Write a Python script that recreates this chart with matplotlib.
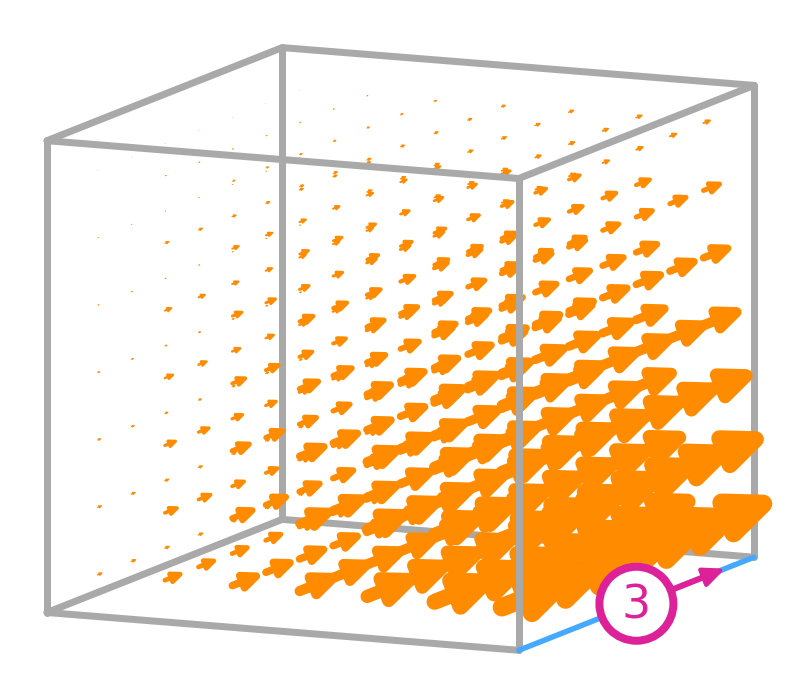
import numpy as np
import matplotlib
matplotlib.use('Agg')
from matplotlib import pyplot as plt
from matplotlib.patches import Circle

# grid positions along each cube side (cube runs 0..7 on every axis)
grid_x = [0.5, 1.5, 2.5, 3.5, 4.5, 5.5, 6.5]
grid_y = [0.5, 1.5, 2.5, 3.5, 4.5, 5.5, 6.5]
grid_z = [0.5, 1.5, 2.5, 3.5, 4.5, 5.5, 6.5]

# arrow length, rows are z layers, columns are x.
# depth (y) makes no visible difference so the rows are shared
len_z0 = [5.5, 19, 30, 41, 53, 64, 74]
len_z1 = [5, 15, 25, 36, 45, 54, 65]
len_z2 = [4, 13, 21, 30, 37, 44, 53]
len_z3 = [3, 10, 16, 23, 29, 35, 41]
len_z4 = [2, 8, 12, 17, 21, 26, 30]
len_z5 = [1.5, 5, 8, 11, 14, 17, 20]
len_z6 = [0.7, 2, 3.5, 5, 6, 7, 8]
arrow_len = [len_z0, len_z1, len_z2, len_z3, len_z4, len_z5, len_z6]

marker_label = '3'

GRAY = '#a9a9a9'
ORANGE = '#ff8c00'
BLUE = '#45aaff'
MAGENTA = '#dd2299'

PX = 72 / 100  # points per pixel at dpi 100

# Projection of the cube axes on the image, per grid step
ORIGIN = np.array([47.0, 612.5])
X_STEP = np.array([67.4, 5.4])
Y_STEP = np.array([33.6, -13.3])
Z_STEP = np.array([0.0, -67.4])

ARROW_DIR = Y_STEP / np.linalg.norm(Y_STEP)
ARROW_NORM = np.array([-ARROW_DIR[1], ARROW_DIR[0]])


def project(x, y, z):
    return ORIGIN + x * X_STEP + y * Y_STEP + z * Z_STEP


def draw_edge(ax, p, q, color=GRAY, width=7, zorder=1):
    a, b = project(*p), project(*q)
    ax.plot([a[0], b[0]], [a[1], b[1]], color=color, lw=width * PX,
            solid_capstyle='round', zorder=zorder)


def draw_arrow(ax, tail, shaft_end, tip, wing_at, wing_half, lw, color, zorder):
    d, n = ARROW_DIR, ARROW_NORM
    a = tail
    b = tail + shaft_end * d
    ax.plot([a[0], b[0]], [a[1], b[1]], color=color, lw=lw * PX,
            solid_capstyle='round', zorder=zorder)
    pts = [tail + tip * d,
           tail + wing_at * d + wing_half * n,
           tail + wing_at * d - wing_half * n]
    ax.fill([p[0] for p in pts], [p[1] for p in pts], facecolor=color, edgecolor=color,
            lw=lw * PX, joinstyle='round', zorder=zorder)


fig = plt.figure(figsize=(8.10, 6.97), dpi=100)
ax = fig.add_axes([0, 0, 1, 1])
ax.set_xlim(0, 810)
ax.set_ylim(697, 0)
ax.axis('off')

# back edges go under the arrows
draw_edge(ax, (0, 7, 0), (0, 7, 7))
draw_edge(ax, (0, 0, 0), (0, 7, 0))
draw_edge(ax, (0, 7, 0), (7, 7, 0))
draw_edge(ax, (7, 7, 0), (7, 7, 7))
draw_edge(ax, (0, 0, 7), (0, 7, 7))
draw_edge(ax, (0, 7, 7), (7, 7, 7))

for j, gy in reversed(list(enumerate(grid_y))):
    for k, gz in enumerate(grid_z):
        for i, gx in enumerate(grid_x):
            L = arrow_len[k][i]
            draw_arrow(ax, project(gx, gy, gz), 0.5 * L, 0.865 * L, 0.35 * L, 0.22 * L,
                       0.25 * L, ORANGE, 2)

# front edges go over them
draw_edge(ax, (0, 0, 0), (0, 0, 7), zorder=3)
draw_edge(ax, (0, 0, 7), (7, 0, 7), zorder=3)
draw_edge(ax, (0, 0, 0), (7, 0, 0), zorder=3)
draw_edge(ax, (7, 0, 0), (7, 0, 7), zorder=3)
draw_edge(ax, (7, 0, 7), (7, 7, 7), zorder=3)
draw_edge(ax, (7, 0, 0), (7, 7, 0), color=BLUE, width=5.5, zorder=3)

# numbered marker in the middle of the blue edge
centre = project(7, 3.5, 0)
draw_arrow(ax, centre, 76, 90, 72, 8, 4.5, MAGENTA, 4)
ax.plot(*zip(centre, centre + 76 * ARROW_DIR), color=MAGENTA, lw=6 * PX, zorder=4)
ax.add_patch(Circle(centre, 37, facecolor='white', edgecolor=MAGENTA, lw=8 * PX, zorder=5))
ax.text(centre[0], centre[1] + 2, marker_label, color=MAGENTA, fontsize=33,
        family='DejaVu Sans', ha='center', va='center', zorder=6)

fig.savefig('out.png', dpi=100)
